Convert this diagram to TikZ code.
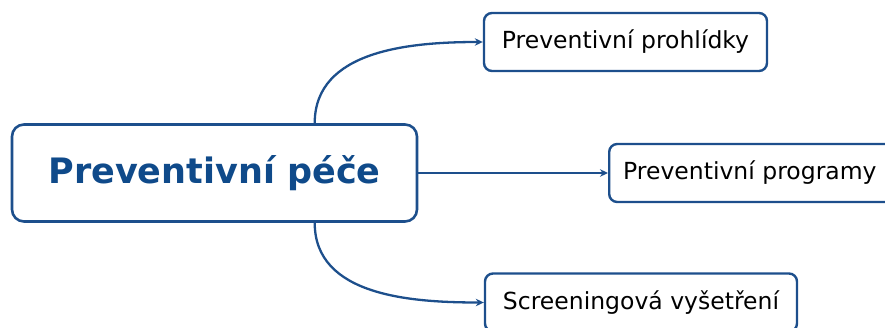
\documentclass[tikz,border=0pt]{standalone}
\usepackage{fontspec}
\setmainfont{DejaVu Sans}
\usetikzlibrary{arrows.meta}
\definecolor{linkblue}{HTML}{1D4F8C}
\definecolor{titleblue}{HTML}{0F4A8A}
\begin{document}
\begin{tikzpicture}[x=1pt,y=1pt,
  mainbox/.style={draw=linkblue,line width=2.6pt,rounded corners=12pt,fill=white,
    minimum width=405pt,minimum height=97pt,inner sep=0pt,
    font=\fontsize{35}{40}\selectfont\bfseries,text=titleblue},
  leafbox/.style={draw=linkblue,line width=2.4pt,rounded corners=8pt,fill=white,
    minimum height=58pt,inner ysep=0pt,inner xsep=14pt,
    font=\fontsize{23.5}{28}\selectfont,text=black},
  conn/.style={draw=linkblue,line width=2.3pt,-{Stealth[length=8pt,width=7.5pt]}}]
\useasboundingbox (0,0) rectangle (885,327);
% central topic
\node[mainbox] (main) at (214.5,154) {Preventivní péče};
% subtopics
\node[leafbox,minimum width=283pt] (checkups) at (625.5,285) {Preventivní prohlídky};
\node[leafbox,anchor=west] (programs) at (608,154) {Preventivní programy\hspace*{20pt}};
\node[leafbox,minimum width=312pt] (screening) at (641,24.5) {Screeningová vyšetření};
% connectors
\draw[conn] ([xshift=304pt]main.north west) to[out=90,in=180] (checkups.west);
\draw[conn] (main.east) -- (programs.west);
\draw[conn] ([xshift=304pt]main.south west) to[out=-90,in=180] (screening.west);
\end{tikzpicture}
\end{document}
